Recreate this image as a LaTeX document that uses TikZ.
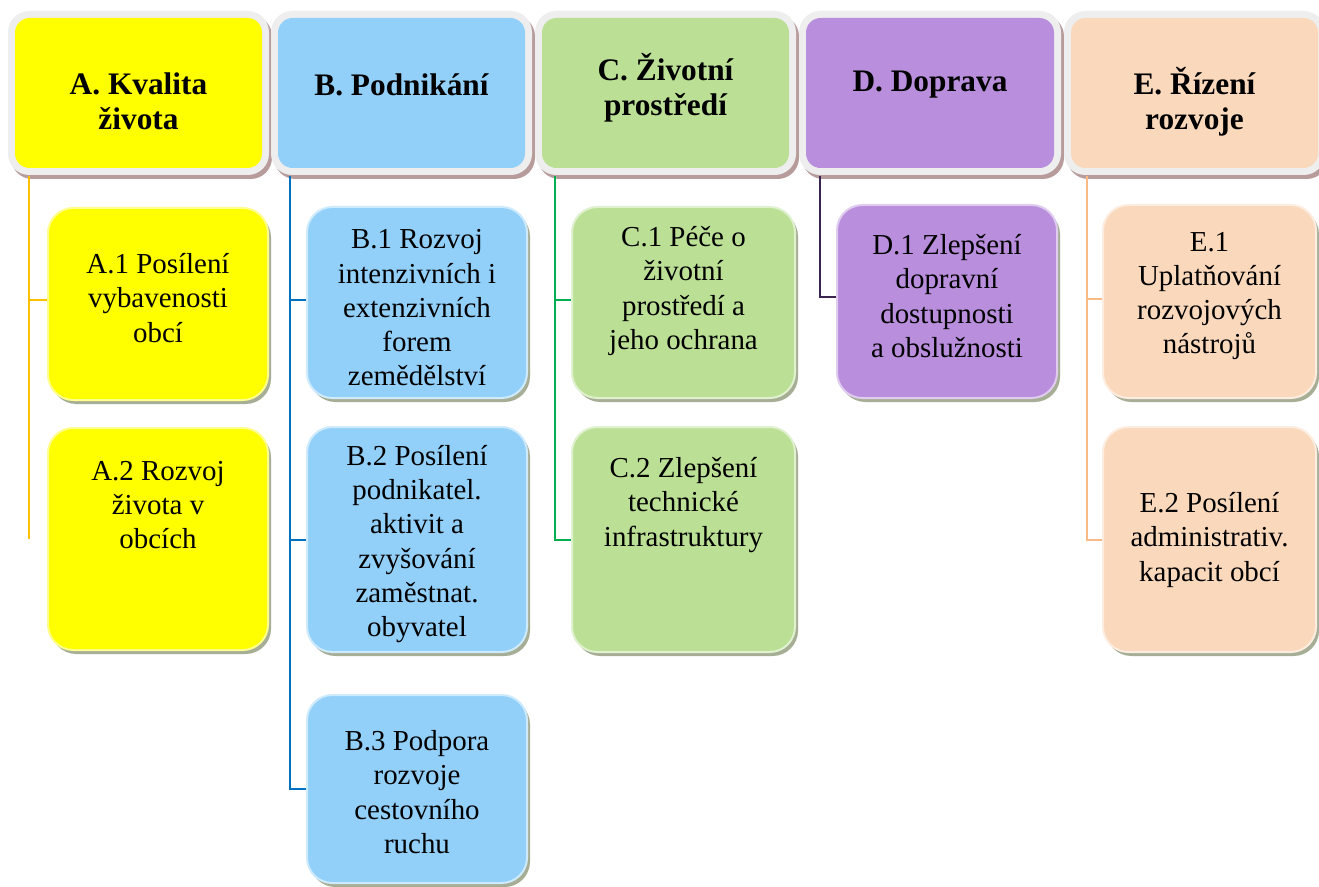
\documentclass[tikz,border=0pt]{standalone}
\usepackage{fontspec}
\setmainfont{Liberation Serif}
\definecolor{cAfill}{RGB}{255,255,0}
\definecolor{cBfill}{RGB}{146,208,250}
\definecolor{cCfill}{RGB}{187,224,149}
\definecolor{cDfill}{RGB}{185,142,220}
\definecolor{cEfill}{RGB}{250,216,188}
\definecolor{cAline}{RGB}{255,192,0}
\definecolor{cBline}{RGB}{0,112,192}
\definecolor{cCline}{RGB}{0,176,80}
\definecolor{cDline}{RGB}{60,36,80}
\definecolor{cEline}{RGB}{250,186,134}
\definecolor{frame}{RGB}{238,238,238}
\definecolor{hshadow}{RGB}{184,156,156}
\definecolor{cshadow}{RGB}{166,174,150}
\tikzset{
  conn/.style={line width=1.5pt},
  htext/.style={font=\fontsize{23.5}{26.5}\selectfont\bfseries, align=center, inner sep=0pt},
  ctext/.style={font=\fontsize{21.7}{25.7}\selectfont, align=center, inner sep=0pt},
}
% header: name, x1, y1, x2, y2 (inner fill), fill colour
\newcommand\hdrbox[6]{%
  \fill[hshadow, rounded corners=16pt] (#2-7+3,#3-7+4) rectangle (#4+7+3,#5+7+4);
  \fill[frame, rounded corners=16pt] (#2-7,#3-7) rectangle (#4+7,#5+7);
  \node[fill=#6, rounded corners=11pt, inner sep=0pt,
        minimum width={(#4-#2)*0.75pt}, minimum height={(#5-#3)*0.75pt}]
        (#1) at ({(#2+#4)/2},{(#3+#5)/2}) {};
}
% child: name, x1, y1, x2, y2, fill colour
\newcommand\chbox[6]{%
  \fill[cshadow, rounded corners=19pt] (#2+3,#3+4) rectangle (#4+3,#5+4);
  \node[fill=#6, draw=#6!45!white, line width=1.5pt, rounded corners=19pt, inner sep=0pt,
        minimum width={(#4-#2)*0.75pt}, minimum height={(#5-#3)*0.75pt}]
        (#1) at ({(#2+#4)/2},{(#3+#5)/2}) {};
}
\begin{document}
\begin{tikzpicture}[x=0.75pt, y=-0.75pt]
\useasboundingbox (0,0) rectangle (1319,887);
\clip (0,0) rectangle (1319,887);
\fill[white] (0,0) rectangle (1319,887);

% headers
\hdrbox{A}{15}{18}{262}{168}{cAfill}
\hdrbox{B}{278}{18}{525}{168}{cBfill}
\hdrbox{C}{542}{18}{789}{168}{cCfill}
\hdrbox{D}{806}{18}{1054}{168}{cDfill}
\hdrbox{E}{1071}{18}{1318}{168}{cEfill}

% connector origins
\coordinate (Ax) at (29,176);
\coordinate (Bx) at (290,176);
\coordinate (Cx) at (555,176);
\coordinate (Dx) at (820,176);
\coordinate (Ex) at (1087,176);

% children
\chbox{A1}{48}{208}{268}{400}{cAfill}
\chbox{A2}{48}{428}{268}{650}{cAfill}
\chbox{B1}{307}{207}{527}{398}{cBfill}
\chbox{B2}{307}{427}{527}{652}{cBfill}
\chbox{B3}{307}{695}{527}{883}{cBfill}
\chbox{C1}{572}{207}{795}{398}{cCfill}
\chbox{C2}{572}{427}{795}{652}{cCfill}
\chbox{D1}{837}{205}{1057}{398}{cDfill}
\chbox{E1}{1103}{205}{1316}{398}{cEfill}
\chbox{E2}{1103}{427}{1316}{652}{cEfill}

% connectors
\draw[conn, cAline] (Ax) |- ([yshift=3pt]A1.west);
\draw[conn, cAline] (Ax) -- (Ax |- A2.west);
\draw[conn, cBline] (Bx) |- ([yshift=1.5pt]B1.west);
\draw[conn, cBline] (Bx) |- (B2.west);
\draw[conn, cBline] (Bx) |- (B3.west);
\draw[conn, cCline] (Cx) |- ([yshift=1.5pt]C1.west);
\draw[conn, cCline] (Cx) |- (C2.west);
\draw[conn, cDline] (Dx) |- ([yshift=3pt]D1.west);
\draw[conn, cEline] (Ex) |- ([yshift=1.5pt]E1.west);
\draw[conn, cEline] (Ex) |- (E2.west);

% header texts
\node[htext] (tA) at (138.5,101.5) {A. Kvalita\\života};
\node[htext] (tB) at (401.5,85) {B. Podnikání};
\node[htext] (tC) at (665.5,87.5) {C. Životní\\prostředí};
\node[htext] (tD) at (930,85) {D. Doprava};
\node[htext] (tE) at (1194.5,101.5) {E. Řízení\\rozvoje};

% child texts
\node[ctext] (tA1) at (158,298) {A.1 Posílení\\vybavenosti\\obcí};
\node[ctext] (tA2) at (158,505) {A.2 Rozvoj\\života v\\obcích};
\node[ctext] (tB1) at (417,308) {B.1 Rozvoj\\intenzivních i\\extenzivních\\forem\\zemědělství};
\node[ctext] (tB2) at (417,544) {B.2 Posílení\\podnikatel.\\aktivit a\\zvyšování\\zaměstnat.\\obyvatel};
\node[ctext] (tB3) at (417,792) {B.3 Podpora\\rozvoje\\cestovního\\ruchu};
\node[ctext] (tC1) at (683.5,291) {C.1 Péče o\\životní\\prostředí a\\jeho ochrana};
\node[ctext] (tC2) at (683.5,505) {C.2 Zlepšení\\technické\\infrastruktury};
\node[ctext] (tD1) at (947,296) {D.1 Zlepšení\\dopravní\\dostupnosti\\a obslužnosti};
\node[ctext] (tE1) at (1209.5,296) {E.1\\Uplatňování\\rozvojových\\nástrojů};
\node[ctext] (tE2) at (1209.5,540) {E.2 Posílení\\administrativ.\\kapacit obcí};
\end{tikzpicture}
\end{document}
